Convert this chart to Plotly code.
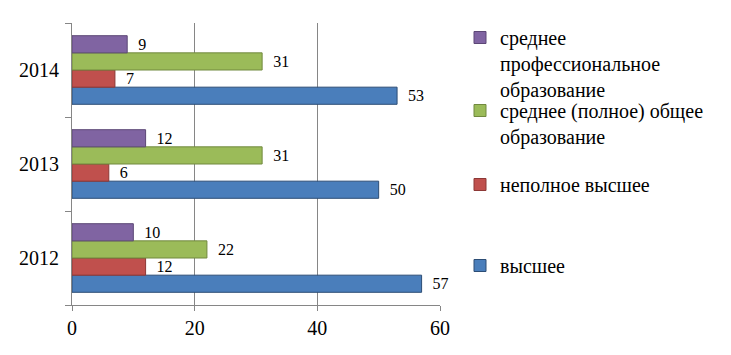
import plotly.graph_objects as go

years = ["2012", "2013", "2014"]
series_names = [
    "высшее",
    "неполное высшее",
    "среднее (полное) общее<br>образование",
    "среднее<br>профессиональное<br>образование",
]
vysshee = [57, 50, 53]
nepolnoe_vysshee = [12, 6, 7]
srednee_obshchee = [22, 31, 31]
srednee_prof = [10, 12, 9]
x_ticks = [0, 20, 40, 60]

values = [vysshee, nepolnoe_vysshee, srednee_obshchee, srednee_prof]
fills = ["#4A7EBB", "#C0504D", "#9BBB59", "#8064A2"]
edges = ["#2C4D75", "#8C3836", "#71893F", "#5C4776"]
legends = ["legend4", "legend3", "legend2", "legend"]
legend_tops = [246, 165, 91, 18]

FONT = "Liberation Serif, Tinos, serif"
OFF = 8  # page body margin
W, H = 731 - OFF, 355 - OFF

fig = go.Figure()
for name, vals, fc, ec, lg in zip(series_names, values, fills, edges, legends):
    fig.add_trace(go.Bar(
        y=years, x=vals, orientation="h", name=name,
        marker=dict(color=fc, line=dict(color=ec, width=1)),
        text=vals, texttemplate="\u00a0\u00a0%{x}", textposition="outside",
        textfont=dict(family=FONT, size=16, color="black"),
        cliponaxis=False, legend=lg,
    ))

layout_legends = {}
for lg, top in zip(legends, legend_tops):
    layout_legends[lg] = dict(
        x=(460 - OFF) / W, xref="container", xanchor="left",
        y=1 - (top - OFF) / H, yref="container", yanchor="top",
        font=dict(family=FONT, size=20, color="black"),
        bgcolor="rgba(0,0,0,0)", valign="top",
    )

fig.update_layout(
    width=W, height=H,
    margin=dict(l=72 - OFF, r=291, t=23 - OFF, b=50, autoexpand=False),
    paper_bgcolor="white", plot_bgcolor="white",
    barmode="group", bargap=0.27, bargroupgap=0,
    showlegend=True,
    font=dict(family=FONT, color="black"),
    xaxis=dict(
        range=[0, 60], tickvals=x_ticks, ticks="outside", ticklen=5,
        tickcolor="#868686", showgrid=True, gridcolor="#868686", gridwidth=1,
        showline=True, linecolor="#868686", linewidth=1, zeroline=False,
        tickfont=dict(family=FONT, size=20, color="black"),
        automargin=False,
    ),
    yaxis=dict(
        type="category", categoryorder="array", categoryarray=years,
        ticks="outside", tickson="boundaries", ticklen=6, tickcolor="#868686",
        showline=True, linecolor="#868686", linewidth=1, showgrid=False,
        tickfont=dict(family=FONT, size=20, color="black"),
        ticklabelstandoff=8, automargin=False,
    ),
    **layout_legends,
)

fig.write_html("out.html")
